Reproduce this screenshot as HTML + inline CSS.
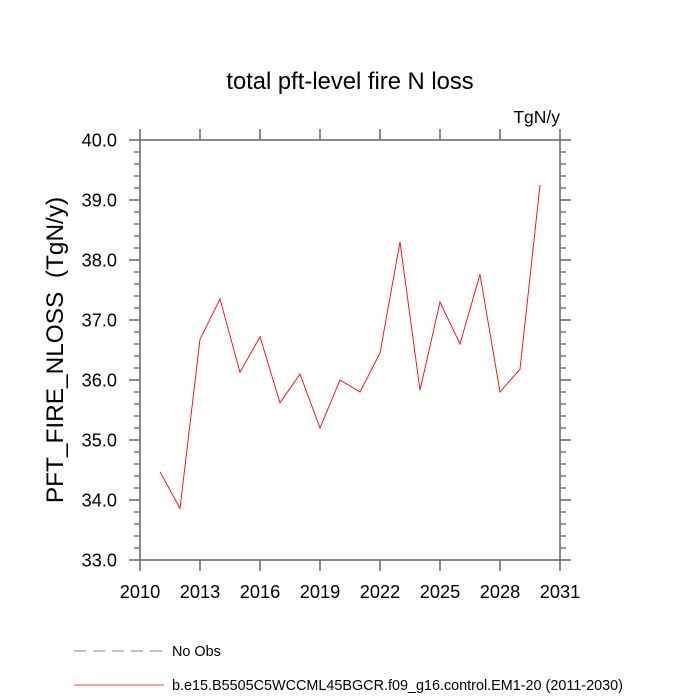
<!DOCTYPE html>
<html><head><meta charset="utf-8"><style>
body{margin:0;background:#fff;}
svg{display:block;font-family:"Liberation Sans",sans-serif;}
</style></head><body>
<svg id="chart" width="700" height="700">
<text x="350" y="89" text-anchor="middle" font-size="23.8">total pft-level fire N loss</text>
<text x="560" y="123" text-anchor="end" font-size="17.5">TgN/y</text>
<text transform="translate(63,350) rotate(-90)" text-anchor="middle" font-size="24.4" xml:space="preserve" style="white-space:pre">PFT_FIRE_NLOSS  (TgN/y)</text>
<g id="axes"></g>
<g id="series"></g>
<line x1="74" y1="651" x2="164" y2="651" stroke="#888" stroke-dasharray="12,7"/>
<text x="172" y="656" font-size="14.4">No Obs</text>
<line x1="74" y1="685" x2="164" y2="685" stroke="#f00" stroke-width="0.8"/>
<text x="172" y="690" font-size="14.4">b.e15.B5505C5WCCML45BGCR.f09_g16.control.EM1-20 (2011-2030)</text>
</svg>
<script>
const years=[2011,2012,2013,2014,2015,2016,2017,2018,2019,2020,2021,2022,2023,2024,2025,2026,2027,2028,2029,2030];
const values=[34.47,33.86,36.68,37.35,36.13,36.72,35.62,36.10,35.20,36.00,35.80,36.45,38.30,35.83,37.30,36.60,37.76,35.80,36.18,39.25];
const xTicks=[2010,2013,2016,2019,2022,2025,2028,2031];
const yTicks=[33,34,35,36,37,38,39,40];
const L=140,R=560,T=140,B=560;
const sx=v=>L+(v-2010)/(2031-2010)*(R-L);
const sy=v=>B-(v-33)/(40-33)*(B-T);
const NS='http://www.w3.org/2000/svg';
const ax=document.getElementById('axes');
function mk(tag,at,parent){const e=document.createElementNS(NS,tag);for(const k in at)e.setAttribute(k,at[k]);(parent||ax).appendChild(e);return e;}
const c='#6e6e6e';
let fr=mk('rect',{x:L,y:T,width:R-L,height:B-T,fill:'none',stroke:c,'stroke-width':1.6});


xTicks.forEach(v=>{
  const x=sx(v);
  mk('line',{x1:x,y1:B,x2:x,y2:B+11,stroke:c,'stroke-width':1.6});
  mk('line',{x1:x,y1:T,x2:x,y2:T-11,stroke:c,'stroke-width':1.6});
  const t=mk('text',{x:x,y:B+38,'text-anchor':'middle','font-size':18.2});
  t.textContent=v;
  
  
});
yTicks.forEach((v,i)=>{
  const y=sy(v);
  mk('line',{x1:L,y1:y,x2:L-11,y2:y,stroke:c,'stroke-width':1.6});
  mk('line',{x1:R,y1:y,x2:R+11,y2:y,stroke:c,'stroke-width':1.6});
  const t=mk('text',{x:L-23,y:y+6.5,'text-anchor':'end','font-size':18.2});
  t.textContent=v.toFixed(1);
  
  
  if(i<yTicks.length-1)for(let k=1;k<5;k++){const yy=sy(v+k*0.2);
    mk('line',{x1:L,y1:yy,x2:L-6,y2:yy,stroke:c,'stroke-width':1.4});
    mk('line',{x1:R,y1:yy,x2:R+6,y2:yy,stroke:c,'stroke-width':1.4});}
});
const p=mk('polyline',{points:years.map((y,i)=>sx(y)+','+sy(values[i])).join(' '),fill:'none',stroke:'#f00','stroke-width':0.9},document.getElementById('series'));


</script>
</body></html>
